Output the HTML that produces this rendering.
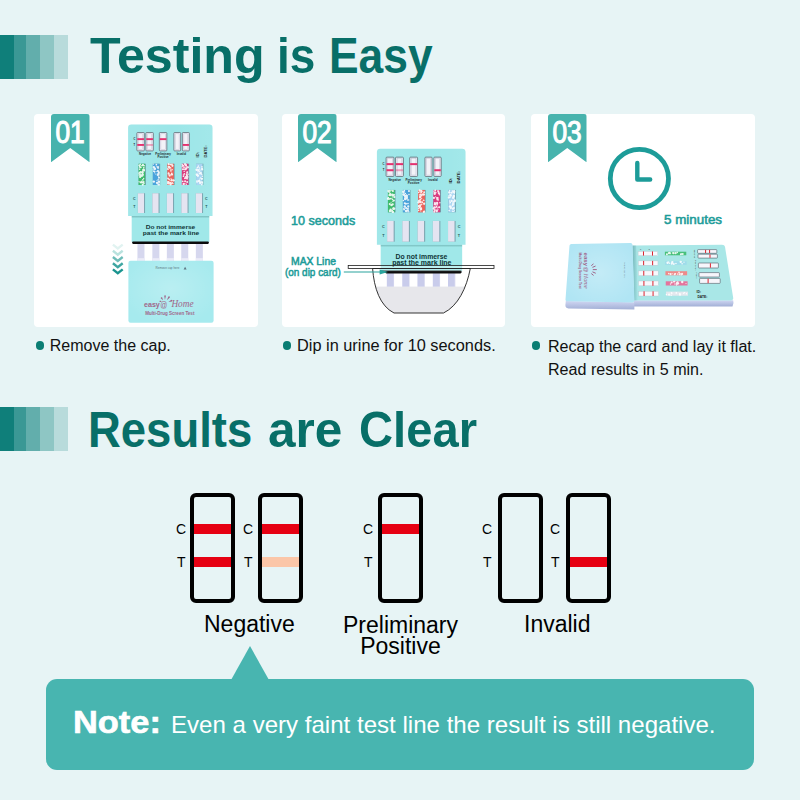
<!DOCTYPE html>
<html lang="en">
<head>
<meta charset="utf-8">
<title>Testing is Easy</title>
<style>
*{box-sizing:border-box;margin:0;padding:0}
html,body{width:800px;height:800px;overflow:hidden}
body{background:#e7f4f5;font-family:"Liberation Sans",sans-serif;position:relative}
.abs{position:absolute}
.bars{position:absolute;left:0;width:68px;height:44px;display:flex}
.bars i{display:block;flex:none;height:100%}
.bars i:nth-child(1){background:#0f7f7a;width:13.7px}
.bars i:nth-child(2){background:#3a9895;width:12.6px}
.bars i:nth-child(3){background:#62aeac;width:13.8px}
.bars i:nth-child(4){background:#8ec6c4;width:14px}
.bars i:nth-child(5){background:#b8dbdb;width:14px}
h1{position:absolute;left:90px;font-family:"Liberation Sans",sans-serif;font-weight:700;color:#086f68;white-space:nowrap;transform-origin:0 0;line-height:1}
h1 span{position:absolute;top:0;transform-origin:0 0}
.panel{position:absolute;top:113.8px;height:213.4px;background:#fff;border-radius:4px}
.ribbon{position:absolute;top:113.8px;width:38.5px;height:48.5px;background:#47b3ad;border-radius:3px 3px 0 0;clip-path:polygon(0 0,100% 0,100% 100%,50% 70.5%,0 100%);color:#fff;font-size:30.6px;line-height:1;text-align:center;padding-top:3.4px;-webkit-text-stroke:1.1px #fff}
.ribbon span{display:inline-block;transform:scaleX(.86);margin:0 -4px}
.cap{position:absolute;transform-origin:0 0;font-size:16px;line-height:23px;color:#111;white-space:nowrap}
.dot{position:absolute;margin:-.7px 0 0 -.1px;width:8.3px;height:8.3px;border-radius:50%;background:#0a7d73}
.teal{position:absolute;color:#1d9c99;font-weight:400;-webkit-text-stroke:.55px #1d9c99;white-space:nowrap;line-height:1;transform-origin:0 0}
.strip{position:absolute;top:493px;width:45px;height:110px;border:4px solid #000;border-radius:6px}
.strip b{position:absolute;left:0;right:0;height:10px;background:#e60012}
.strip b.c{top:27px}
.strip b.t{top:60px}
.strip b.f{background:#fbc6a8}
.ct{position:absolute;font-size:14px;line-height:1;color:#000}
.lbl{position:absolute;margin-top:1px;font-size:23px;line-height:21px;color:#000;text-align:center;white-space:nowrap}
.note{position:absolute;left:46px;top:679px;width:708px;height:91px;background:#48b5b0;border-radius:11px}
.tri{position:absolute;left:231px;top:646px;width:38px;height:34px;background:#48b5b0;clip-path:polygon(50% 0,100% 100%,0 100%)}
.nt{position:absolute;color:#fff;white-space:nowrap;line-height:1;transform-origin:0 0}
</style>
</head>
<body>

<!-- headers -->
<div class="bars" style="top:34.8px;height:44.2px"><i></i><i></i><i></i><i></i><i></i></div>
<h1 id="t1" style="top:31px;left:0;font-size:50.5px"><span style="left:89.5px;transform:scaleX(.993)">Testing</span> <span style="left:276.5px;transform:scaleX(.91)">is</span> <span style="left:328.5px;transform:scaleX(.879)">Easy</span></h1>
<div class="bars" style="top:407px;height:44.2px"><i></i><i></i><i></i><i></i><i></i></div>
<h1 id="t2" style="top:405px;left:0;font-size:50.5px"><span style="left:88px;transform:scaleX(.9)">Results</span> <span style="left:268px;transform:scaleX(.98)">are</span> <span style="left:359px;transform:scaleX(.934)">Clear</span></h1>

<!-- panels -->
<div class="panel" style="left:34.2px;width:223.9px"></div>
<div class="panel" style="left:281.6px;width:223.7px"></div>
<div class="panel" style="left:531.4px;width:223.6px"></div>
<div class="ribbon" style="left:51px"><span>01</span></div>
<div class="ribbon" style="left:298px"><span>02</span></div>
<div class="ribbon" style="left:548px"><span>03</span></div>

<!-- ART -->
<svg class="abs" id="art" style="left:0;top:0" width="800" height="340" viewBox="0 0 800 340">
<defs>
<linearGradient id="shd" x1="0" y1="0" x2="0" y2="1"><stop offset="0" stop-color="#2a6a68" stop-opacity=".35"/><stop offset="1" stop-color="#2a6a68" stop-opacity="0"/></linearGradient>
<linearGradient id="gl" x1="0" y1="0" x2="1" y2="0"><stop offset="0" stop-color="#fff" stop-opacity=".06"/><stop offset=".5" stop-color="#fff" stop-opacity="0"/><stop offset="1" stop-color="#fff" stop-opacity=".08"/></linearGradient>
<radialGradient id="capg" cx=".5" cy=".45" r=".6"><stop offset="0" stop-color="#fff" stop-opacity=".22"/><stop offset="1" stop-color="#fff" stop-opacity="0"/></radialGradient>
<radialGradient id="capg2" cx=".5" cy=".5" r=".6"><stop offset="0" stop-color="#fff" stop-opacity=".25"/><stop offset="1" stop-color="#fff" stop-opacity="0"/></radialGradient>
<linearGradient id="csh" x1="0" y1="0" x2="1" y2="0"><stop offset="0" stop-color="#3a7f88" stop-opacity=".45"/><stop offset="1" stop-color="#3a7f88" stop-opacity="0"/></linearGradient>
<linearGradient id="sideg" x1="0" y1="0" x2="0" y2="1"><stop offset="0" stop-color="#cfd6f2"/><stop offset="1" stop-color="#a3b0d6"/></linearGradient>
</defs>
<!-- step 1 -->
<g transform="translate(128.1,124.5) scale(1)">
<rect x="9.35" y="117.3" width="7" height="21" fill="#d6d7ee"/>
<rect x="9.35" y="133.68" width="7" height="4.62" fill="#ececf8"/>
<rect x="24.25" y="117.3" width="7" height="21" fill="#d6d7ee"/>
<rect x="24.25" y="133.68" width="7" height="4.62" fill="#ececf8"/>
<rect x="38.75" y="117.3" width="7" height="21" fill="#d6d7ee"/>
<rect x="38.75" y="133.68" width="7" height="4.62" fill="#ececf8"/>
<rect x="53.15" y="117.3" width="7" height="21" fill="#d6d7ee"/>
<rect x="53.15" y="133.68" width="7" height="4.62" fill="#ececf8"/>
<rect x="67.75" y="117.3" width="7" height="21" fill="#d6d7ee"/>
<rect x="67.75" y="133.68" width="7" height="4.62" fill="#ececf8"/>
<rect x="3.6" y="88" width="77.6" height="29.55" fill="#a0e8e9"/>
<rect x="3.6" y="91.5" width="77.6" height="2.4" fill="url(#shd)"/>
<rect x="4" y="117" width="76.8" height="2.4" rx="1.1" fill="#0c0c0c"/>
<path d="M0 3.2Q0 0 3.2 0H81.2Q84.4 0 84.4 3.2V91.5H0Z" fill="#9be6e8"/>
<path d="M0 3.2Q0 0 3.2 0H81.2Q84.4 0 84.4 3.2V91.5H0Z" fill="url(#gl)"/>
<rect x="8.75" y="8" width="7.5" height="18.4" rx=".8" fill="#e6e4f0" stroke="#56626c" stroke-width=".7"/>
<rect x="10.35" y="9.4" width="4.3" height="15.6" fill="#f3f2f8" stroke="#b4b6c8" stroke-width=".3"/>
<rect x="17.75" y="8" width="7.5" height="18.4" rx=".8" fill="#e6e4f0" stroke="#56626c" stroke-width=".7"/>
<rect x="19.35" y="9.4" width="4.3" height="15.6" fill="#f3f2f8" stroke="#b4b6c8" stroke-width=".3"/>
<rect x="31.25" y="8" width="7.5" height="18.4" rx=".8" fill="#e6e4f0" stroke="#56626c" stroke-width=".7"/>
<rect x="32.85" y="9.4" width="4.3" height="15.6" fill="#f3f2f8" stroke="#b4b6c8" stroke-width=".3"/>
<rect x="45.75" y="8" width="6.8" height="18.4" rx=".8" fill="#e6e4f0" stroke="#56626c" stroke-width=".7"/>
<rect x="47.35" y="9.4" width="3.6" height="15.6" fill="#f3f2f8" stroke="#b4b6c8" stroke-width=".3"/>
<rect x="54.25" y="8" width="7" height="18.4" rx=".8" fill="#e6e4f0" stroke="#56626c" stroke-width=".7"/>
<rect x="55.85" y="9.4" width="3.8" height="15.6" fill="#f3f2f8" stroke="#b4b6c8" stroke-width=".3"/>
<rect x="9.15" y="13.7" width="6.7" height="1.9" fill="#e4316f" opacity="1"/>
<rect x="9.15" y="19.5" width="6.7" height="1.9" fill="#e4316f" opacity="1"/>
<rect x="18.15" y="13.7" width="6.7" height="1.9" fill="#e4316f" opacity="1"/>
<rect x="18.15" y="19.5" width="6.7" height="1.9" fill="#e4316f" opacity="0.4"/>
<rect x="31.65" y="13.7" width="6.7" height="1.9" fill="#e4316f" opacity="1"/>
<rect x="54.65" y="19.5" width="6.2" height="1.9" fill="#e4316f" opacity="1"/>
<g font-family="Liberation Sans,sans-serif" fill="#1c2a2e" font-size="2.9" font-weight="700" text-anchor="middle">
<text x="17" y="30.6">Negative</text><text x="35" y="30.6">Preliminary</text><text x="35" y="33.4">Positive</text><text x="53.3" y="30.6">Invalid</text>
<text x="6.3" y="15.6" font-size="2.6">C</text><text x="6.3" y="21.4" font-size="2.6">T</text>
</g>
<g font-family="Liberation Sans,sans-serif" fill="#222" font-weight="700" font-size="4.1">
<text transform="translate(71.2,33) rotate(-90)">ID:</text><text transform="translate(79.2,33) rotate(-90)">DATE:</text>
</g>
<rect x="10.5" y="39.25" width="7.3" height="21.25" fill="#5f8f98" opacity=".75"/>
<rect x="10.5" y="39.25" width="6.5" height="21.25" fill="#3dbb6c"/>
<g fill="#fff" opacity=".88"><circle cx="12.68" cy="42.71" r="0.96"/><circle cx="11.14" cy="50.64" r="0.76"/><circle cx="11.05" cy="50.05" r="0.53"/><circle cx="13.35" cy="41.04" r="0.56"/><circle cx="13.29" cy="56.63" r="0.59"/><circle cx="12.06" cy="52.53" r="1.16"/><circle cx="14.22" cy="47.77" r="1.18"/><circle cx="10.98" cy="57.28" r="0.7"/><circle cx="11.58" cy="42.03" r="0.72"/><circle cx="15.68" cy="43.32" r="0.91"/><circle cx="14.6" cy="47.27" r="0.88"/><circle cx="11.08" cy="40.83" r="0.64"/><circle cx="14.85" cy="48.41" r="0.72"/><circle cx="14.27" cy="48.94" r="0.71"/><circle cx="15.55" cy="54" r="0.67"/><circle cx="14.2" cy="50.42" r="1.11"/><circle cx="15.15" cy="45.53" r="1.19"/><circle cx="11.42" cy="48.21" r="1.03"/><circle cx="11.63" cy="49.67" r="0.53"/><circle cx="14.78" cy="55.35" r="0.9"/><circle cx="16.04" cy="46.06" r="0.99"/><circle cx="14.33" cy="51.55" r="0.82"/><circle cx="15.82" cy="59.06" r="0.83"/><circle cx="14.75" cy="40.85" r="0.99"/><circle cx="14.65" cy="60.06" r="1.08"/><circle cx="12.44" cy="47.55" r="0.97"/><circle cx="10.84" cy="49.11" r="0.62"/><circle cx="11.41" cy="40.81" r="1.04"/><circle cx="11.49" cy="44.7" r="0.77"/><circle cx="16.02" cy="41.26" r="0.81"/><circle cx="14.05" cy="57.8" r="1.07"/><circle cx="15.97" cy="45.34" r="0.79"/><circle cx="12.89" cy="57.81" r="1.17"/><circle cx="11.62" cy="43.23" r="0.66"/><circle cx="12.12" cy="49.59" r="0.91"/><circle cx="12.3" cy="39.68" r="0.79"/><circle cx="12.95" cy="51.27" r="1.17"/><circle cx="14.91" cy="50.22" r="0.93"/><circle cx="14.82" cy="40.71" r="1.13"/><circle cx="15.46" cy="57.61" r="1.06"/><circle cx="13.09" cy="47.82" r="0.57"/><circle cx="14.57" cy="40.88" r="0.55"/></g>
<rect x="24.75" y="39.25" width="7.3" height="21.25" fill="#5f8f98" opacity=".75"/>
<rect x="24.75" y="39.25" width="6.5" height="21.25" fill="#4aa3dc"/>
<g fill="#fff" opacity=".88"><circle cx="26.22" cy="42.94" r="0.74"/><circle cx="25.27" cy="39.6" r="0.61"/><circle cx="25.57" cy="47.09" r="0.52"/><circle cx="30.28" cy="52.25" r="0.6"/><circle cx="26.49" cy="46.76" r="0.75"/><circle cx="25.7" cy="57.09" r="1.2"/><circle cx="27.79" cy="49.57" r="0.56"/><circle cx="25.57" cy="46.66" r="0.69"/><circle cx="30.01" cy="42.93" r="0.52"/><circle cx="30.75" cy="50.48" r="0.6"/><circle cx="28.26" cy="40.16" r="0.87"/><circle cx="30.92" cy="57.38" r="0.99"/><circle cx="26.54" cy="47.15" r="0.62"/><circle cx="29.66" cy="50.57" r="1.05"/><circle cx="26.96" cy="44.19" r="1.07"/><circle cx="30.96" cy="57.16" r="1.06"/><circle cx="29.94" cy="54.84" r="0.66"/><circle cx="28.11" cy="46.92" r="0.52"/><circle cx="25.12" cy="45.36" r="0.68"/><circle cx="29.17" cy="59.3" r="0.81"/><circle cx="30.67" cy="59.95" r="1.17"/><circle cx="27.17" cy="44.14" r="0.66"/><circle cx="26.15" cy="43.81" r="0.94"/><circle cx="30.44" cy="56.91" r="0.84"/><circle cx="28.93" cy="56.07" r="0.56"/><circle cx="28.98" cy="58.34" r="1.05"/><circle cx="29.53" cy="49.45" r="0.62"/><circle cx="29.76" cy="46.45" r="1.06"/><circle cx="30.88" cy="47.75" r="0.78"/><circle cx="30.73" cy="54.53" r="0.62"/><circle cx="25.72" cy="42.71" r="1.13"/><circle cx="29.87" cy="42.61" r="1.08"/><circle cx="30.93" cy="53.14" r="0.75"/><circle cx="28.3" cy="42.3" r="0.51"/><circle cx="30.87" cy="52.98" r="0.87"/><circle cx="30.65" cy="48.54" r="1.11"/><circle cx="29.99" cy="43.95" r="0.68"/><circle cx="26.74" cy="44.56" r="0.91"/><circle cx="26.53" cy="48.23" r="0.59"/><circle cx="30.5" cy="46.89" r="0.82"/><circle cx="28.51" cy="58.23" r="0.79"/><circle cx="30.55" cy="49.93" r="0.87"/></g>
<rect x="39.25" y="39.25" width="7.3" height="21.25" fill="#5f8f98" opacity=".75"/>
<rect x="39.25" y="39.25" width="6.5" height="21.25" fill="#ea645c"/>
<g fill="#fff" opacity=".88"><circle cx="42.64" cy="39.99" r="0.81"/><circle cx="40.57" cy="39.68" r="1.06"/><circle cx="40.5" cy="49.35" r="1.01"/><circle cx="42.84" cy="46.32" r="0.86"/><circle cx="42.84" cy="55.76" r="0.57"/><circle cx="42.87" cy="44.72" r="0.69"/><circle cx="44.16" cy="50.06" r="0.89"/><circle cx="44.09" cy="58.4" r="0.81"/><circle cx="43.19" cy="50.01" r="0.86"/><circle cx="43.68" cy="48.92" r="0.87"/><circle cx="42.37" cy="58.99" r="0.99"/><circle cx="44.8" cy="59.01" r="0.68"/><circle cx="42.86" cy="59.03" r="1.09"/><circle cx="40.29" cy="42.11" r="0.81"/><circle cx="39.89" cy="44.56" r="0.55"/><circle cx="43.53" cy="55.75" r="1.13"/><circle cx="40.39" cy="54.35" r="0.96"/><circle cx="40.32" cy="57.79" r="1.18"/><circle cx="40.79" cy="59.22" r="0.78"/><circle cx="42.42" cy="59.99" r="1.08"/><circle cx="40.43" cy="48.49" r="0.86"/><circle cx="41.52" cy="43.63" r="0.72"/><circle cx="43.86" cy="40" r="0.89"/><circle cx="42.14" cy="39.97" r="0.73"/><circle cx="43.26" cy="50.15" r="0.55"/><circle cx="45.46" cy="55.84" r="1.18"/><circle cx="40.09" cy="45.07" r="0.53"/><circle cx="44.2" cy="45.17" r="0.59"/><circle cx="42.03" cy="58.38" r="1.07"/><circle cx="41.03" cy="42.68" r="1.14"/><circle cx="42.93" cy="54.03" r="0.56"/><circle cx="39.8" cy="53.78" r="0.8"/><circle cx="39.89" cy="58.93" r="0.94"/><circle cx="44.34" cy="41.33" r="1.1"/><circle cx="39.86" cy="57.37" r="0.82"/><circle cx="41.52" cy="50.99" r="1.15"/><circle cx="41.08" cy="42.26" r="0.87"/><circle cx="40.9" cy="41.85" r="0.61"/><circle cx="39.76" cy="43.76" r="0.72"/><circle cx="41.31" cy="55.25" r="0.7"/><circle cx="42.5" cy="43.26" r="0.74"/><circle cx="39.56" cy="44.76" r="0.51"/></g>
<rect x="53.75" y="39.25" width="7.3" height="21.25" fill="#5f8f98" opacity=".75"/>
<rect x="53.75" y="39.25" width="6.5" height="21.25" fill="#da3b7d"/>
<g fill="#fff" opacity=".88"><circle cx="58.42" cy="50.95" r="0.63"/><circle cx="56.85" cy="58.85" r="0.57"/><circle cx="58.95" cy="48.5" r="0.85"/><circle cx="59.04" cy="47.7" r="0.85"/><circle cx="58.15" cy="59.84" r="0.74"/><circle cx="59.03" cy="54.16" r="0.95"/><circle cx="56.42" cy="46.76" r="0.54"/><circle cx="54.74" cy="41.06" r="1.02"/><circle cx="55.51" cy="42.96" r="0.56"/><circle cx="59.08" cy="57.53" r="0.97"/><circle cx="55.67" cy="44.59" r="0.71"/><circle cx="56.75" cy="42.85" r="0.81"/><circle cx="55.56" cy="59.41" r="1.18"/><circle cx="57.29" cy="44.64" r="1.18"/><circle cx="55.84" cy="46.95" r="0.5"/><circle cx="56.28" cy="49.38" r="0.85"/><circle cx="55.18" cy="50" r="0.5"/><circle cx="55.56" cy="41.45" r="0.78"/><circle cx="54.2" cy="40.06" r="0.71"/><circle cx="55.37" cy="51.66" r="0.87"/><circle cx="58.53" cy="53.15" r="1"/><circle cx="59.31" cy="47.62" r="0.73"/><circle cx="59.96" cy="42.68" r="1.01"/><circle cx="57.87" cy="40.5" r="1.08"/><circle cx="59.39" cy="52.52" r="1.01"/><circle cx="58.9" cy="42.47" r="0.87"/><circle cx="57.03" cy="56.8" r="1.06"/><circle cx="58.99" cy="51.63" r="1.12"/><circle cx="58.12" cy="53.88" r="0.66"/><circle cx="54.14" cy="42.34" r="0.75"/><circle cx="54.59" cy="56.82" r="0.89"/><circle cx="57.78" cy="52.5" r="0.98"/><circle cx="56.93" cy="39.67" r="1.06"/><circle cx="58.51" cy="49.96" r="0.87"/><circle cx="57.97" cy="40.96" r="1.02"/><circle cx="55.49" cy="41.13" r="0.69"/><circle cx="58.4" cy="43.83" r="1.02"/><circle cx="59.9" cy="49.78" r="0.77"/><circle cx="56.87" cy="53.68" r="1.04"/><circle cx="57.71" cy="52.84" r="0.55"/><circle cx="54.85" cy="44.83" r="1.02"/><circle cx="55.81" cy="51.3" r="0.51"/></g>
<rect x="68" y="39.25" width="7.3" height="21.25" fill="#5f8f98" opacity=".75"/>
<rect x="68" y="39.25" width="6.5" height="21.25" fill="#a9d5f2"/>
<g fill="#fff" opacity=".88"><circle cx="68.57" cy="45.14" r="0.97"/><circle cx="72.42" cy="53.52" r="0.7"/><circle cx="71.35" cy="49.17" r="0.83"/><circle cx="68.92" cy="58.01" r="0.64"/><circle cx="74.17" cy="58.89" r="0.51"/><circle cx="71" cy="56.49" r="1.18"/><circle cx="70.94" cy="45.13" r="0.65"/><circle cx="73.97" cy="43.94" r="0.91"/><circle cx="69.06" cy="50.4" r="1.17"/><circle cx="69.01" cy="56.5" r="0.86"/><circle cx="73.61" cy="54.09" r="0.66"/><circle cx="73.68" cy="49.61" r="0.52"/><circle cx="68.22" cy="49.73" r="0.82"/><circle cx="70.04" cy="42.5" r="0.74"/><circle cx="70.13" cy="56.91" r="0.5"/><circle cx="72.78" cy="56.89" r="0.58"/><circle cx="73.85" cy="54.29" r="1.13"/><circle cx="69.97" cy="47.27" r="0.78"/><circle cx="74.29" cy="51.74" r="0.75"/><circle cx="70.81" cy="45.27" r="0.53"/><circle cx="68.82" cy="56.79" r="0.7"/><circle cx="73.91" cy="44.74" r="0.69"/><circle cx="71.32" cy="43.51" r="0.76"/><circle cx="74.03" cy="57.82" r="1.07"/><circle cx="72.05" cy="58.42" r="1.16"/><circle cx="71.55" cy="54.42" r="0.53"/><circle cx="72.67" cy="48.89" r="1.03"/><circle cx="72.13" cy="45.5" r="0.53"/><circle cx="73.85" cy="42.22" r="0.83"/><circle cx="70.3" cy="45.73" r="1.02"/><circle cx="74.16" cy="44.96" r="0.96"/><circle cx="70.04" cy="51.08" r="0.78"/><circle cx="69.22" cy="42.93" r="0.65"/><circle cx="73.73" cy="49.84" r="0.65"/><circle cx="73.73" cy="60.13" r="0.81"/><circle cx="69.05" cy="43.56" r="0.56"/><circle cx="70.29" cy="41.48" r="0.67"/><circle cx="69.78" cy="51.33" r="1.12"/><circle cx="72.77" cy="48.1" r="0.79"/><circle cx="71.4" cy="47.36" r="0.74"/><circle cx="68.58" cy="45.32" r="1.18"/><circle cx="68.97" cy="49.97" r="0.94"/></g>
<rect x="9.75" y="68.75" width="7.2" height="19.75" fill="#6f93a0" opacity=".8"/>
<rect x="9.75" y="68.75" width="6.2" height="19.75" fill="#e5e4f1"/>
<rect x="24.25" y="68.75" width="7.2" height="19.75" fill="#6f93a0" opacity=".8"/>
<rect x="24.25" y="68.75" width="6.2" height="19.75" fill="#e5e4f1"/>
<rect x="38.75" y="68.75" width="7.2" height="19.75" fill="#6f93a0" opacity=".8"/>
<rect x="38.75" y="68.75" width="6.2" height="19.75" fill="#e5e4f1"/>
<rect x="53.25" y="68.75" width="7.2" height="19.75" fill="#6f93a0" opacity=".8"/>
<rect x="53.25" y="68.75" width="6.2" height="19.75" fill="#e5e4f1"/>
<rect x="67.75" y="68.75" width="7.2" height="19.75" fill="#6f93a0" opacity=".8"/>
<rect x="67.75" y="68.75" width="6.2" height="19.75" fill="#e5e4f1"/>
<g font-family="Liberation Sans,sans-serif" fill="#1f5a5c" font-weight="700" font-size="3.6" text-anchor="middle">
<text x="6.2" y="75.5">C</text><text x="6.2" y="83.9">T</text><text x="78.2" y="75.5">C</text><text x="78.2" y="83.9">T</text>
</g>
<g font-family="Liberation Sans,sans-serif" fill="#0e3536" font-weight="700" font-size="6" text-anchor="middle">
<text x="42.4" y="104.6" textLength="49.5" lengthAdjust="spacingAndGlyphs">Do not immerse</text>
<text x="42.8" y="110.4" textLength="56.5" lengthAdjust="spacingAndGlyphs">past the mark line</text>
</g>
</g>
<rect x="128.4" y="260.8" width="85.2" height="62" rx="2.2" fill="#a6eaee"/>
<rect x="128.4" y="260.8" width="85.2" height="62" rx="2.2" fill="url(#capg)"/>
<g font-family="Liberation Sans,sans-serif" fill="#5d7480">
<text x="155.5" y="269.3" font-size="3.2" textLength="24" lengthAdjust="spacingAndGlyphs">Remove cap here</text>
<path d="M183.6 269.6l1.5-2.8 1.5 2.8z"/>
</g>
<g fill="#a0668a" font-family="Liberation Sans,sans-serif">
<text x="144" y="307.3" font-size="7.6" font-weight="700" textLength="15.8" lengthAdjust="spacingAndGlyphs">easy</text>
<text x="160.3" y="307.6" font-size="8.2" textLength="7" lengthAdjust="spacingAndGlyphs">@</text>
<text x="171.4" y="307.3" font-size="9.4" font-style="italic" font-family="Liberation Serif,serif" textLength="22.2" lengthAdjust="spacingAndGlyphs">Home</text>
<text x="145.2" y="315" font-size="5.3" font-weight="700" textLength="49.2" lengthAdjust="spacingAndGlyphs">Multi-Drug Screen Test</text>
<path d="M161.74 301.96L160.3 300.46Q158.87 300.8 159.66 302.04Z"/>
<path d="M163 300.32L162.13 297.32Q160.77 296.75 160.69 298.22Z"/>
<path d="M164.92 299.8L165.91 295.83Q165.1 294.61 164.21 295.77Z"/>
<path d="M166.86 300.25L169.86 297.46Q169.85 295.99 168.46 296.49Z"/>
<path d="M168.37 301.9L172.04 301.47Q172.88 300.26 171.46 299.87Z"/>
</g>
<g fill="none" stroke-width="2.4" stroke-linejoin="miter">
<path d="M112.9 244.6l4.9 3.9 4.9-3.9" stroke="#e1f3f1"/>
<path d="M112.9 250.8l4.9 3.9 4.9-3.9" stroke="#b9e2de"/>
<path d="M112.9 257l4.9 3.9 4.9-3.9" stroke="#6dbcb8"/>
<path d="M112.9 263.2l4.9 3.9 4.9-3.9" stroke="#3fa6a2"/>
<path d="M112.9 269.4l4.9 3.9 4.9-3.9" stroke="#1a948f"/>
</g>
<!-- step 2 -->
<g transform="translate(376.9,148.75) scale(1.05)">
<rect x="9.35" y="116.3" width="7" height="30" fill="#d6d7ee"/>
<rect x="9.35" y="139.7" width="7" height="6.6" fill="#ececf8"/>
<rect x="24.25" y="116.3" width="7" height="30" fill="#d6d7ee"/>
<rect x="24.25" y="139.7" width="7" height="6.6" fill="#ececf8"/>
<rect x="38.75" y="116.3" width="7" height="30" fill="#d6d7ee"/>
<rect x="38.75" y="139.7" width="7" height="6.6" fill="#ececf8"/>
<rect x="53.15" y="116.3" width="7" height="30" fill="#d6d7ee"/>
<rect x="53.15" y="139.7" width="7" height="6.6" fill="#ececf8"/>
<rect x="67.75" y="116.3" width="7" height="30" fill="#d6d7ee"/>
<rect x="67.75" y="139.7" width="7" height="6.6" fill="#ececf8"/>
<rect x="3.6" y="88" width="77.6" height="28.55" fill="#a0e8e9"/>
<rect x="3.6" y="91.5" width="77.6" height="2.4" fill="url(#shd)"/>
<rect x="4" y="116" width="76.8" height="2.4" rx="1.1" fill="#0c0c0c"/>
<path d="M0 3.2Q0 0 3.2 0H81.2Q84.4 0 84.4 3.2V91.5H0Z" fill="#9be6e8"/>
<path d="M0 3.2Q0 0 3.2 0H81.2Q84.4 0 84.4 3.2V91.5H0Z" fill="url(#gl)"/>
<rect x="8.75" y="8" width="7.5" height="18.4" rx=".8" fill="#e6e4f0" stroke="#56626c" stroke-width=".7"/>
<rect x="10.35" y="9.4" width="4.3" height="15.6" fill="#f3f2f8" stroke="#b4b6c8" stroke-width=".3"/>
<rect x="17.75" y="8" width="7.5" height="18.4" rx=".8" fill="#e6e4f0" stroke="#56626c" stroke-width=".7"/>
<rect x="19.35" y="9.4" width="4.3" height="15.6" fill="#f3f2f8" stroke="#b4b6c8" stroke-width=".3"/>
<rect x="31.25" y="8" width="7.5" height="18.4" rx=".8" fill="#e6e4f0" stroke="#56626c" stroke-width=".7"/>
<rect x="32.85" y="9.4" width="4.3" height="15.6" fill="#f3f2f8" stroke="#b4b6c8" stroke-width=".3"/>
<rect x="45.75" y="8" width="6.8" height="18.4" rx=".8" fill="#e6e4f0" stroke="#56626c" stroke-width=".7"/>
<rect x="47.35" y="9.4" width="3.6" height="15.6" fill="#f3f2f8" stroke="#b4b6c8" stroke-width=".3"/>
<rect x="54.25" y="8" width="7" height="18.4" rx=".8" fill="#e6e4f0" stroke="#56626c" stroke-width=".7"/>
<rect x="55.85" y="9.4" width="3.8" height="15.6" fill="#f3f2f8" stroke="#b4b6c8" stroke-width=".3"/>
<rect x="9.15" y="13.7" width="6.7" height="1.9" fill="#e4316f" opacity="1"/>
<rect x="9.15" y="19.5" width="6.7" height="1.9" fill="#e4316f" opacity="1"/>
<rect x="18.15" y="13.7" width="6.7" height="1.9" fill="#e4316f" opacity="1"/>
<rect x="18.15" y="19.5" width="6.7" height="1.9" fill="#e4316f" opacity="0.4"/>
<rect x="31.65" y="13.7" width="6.7" height="1.9" fill="#e4316f" opacity="1"/>
<rect x="54.65" y="19.5" width="6.2" height="1.9" fill="#e4316f" opacity="1"/>
<g font-family="Liberation Sans,sans-serif" fill="#1c2a2e" font-size="2.9" font-weight="700" text-anchor="middle">
<text x="17" y="30.6">Negative</text><text x="35" y="30.6">Preliminary</text><text x="35" y="33.4">Positive</text><text x="53.3" y="30.6">Invalid</text>
<text x="6.3" y="15.6" font-size="2.6">C</text><text x="6.3" y="21.4" font-size="2.6">T</text>
</g>
<g font-family="Liberation Sans,sans-serif" fill="#222" font-weight="700" font-size="4.1">
<text transform="translate(71.2,33) rotate(-90)">ID:</text><text transform="translate(79.2,33) rotate(-90)">DATE:</text>
</g>
<rect x="10.5" y="39.25" width="7.3" height="21.25" fill="#5f8f98" opacity=".75"/>
<rect x="10.5" y="39.25" width="6.5" height="21.25" fill="#3dbb6c"/>
<g fill="#fff" opacity=".88"><circle cx="15.96" cy="44.05" r="0.69"/><circle cx="12.22" cy="47.83" r="0.81"/><circle cx="16.52" cy="57.08" r="1.11"/><circle cx="10.83" cy="40.26" r="1"/><circle cx="16.16" cy="49.35" r="0.91"/><circle cx="10.7" cy="47.67" r="1.15"/><circle cx="15.74" cy="57.22" r="1.18"/><circle cx="12.22" cy="41.85" r="0.61"/><circle cx="13.89" cy="53.65" r="1.16"/><circle cx="15.1" cy="52.94" r="1.04"/><circle cx="13.49" cy="50.96" r="0.53"/><circle cx="15.47" cy="44.39" r="1.14"/><circle cx="14.64" cy="45.86" r="0.59"/><circle cx="12.24" cy="52.71" r="0.99"/><circle cx="11.38" cy="41.05" r="0.87"/><circle cx="14.26" cy="47.59" r="0.66"/><circle cx="14.37" cy="39.82" r="0.71"/><circle cx="13.51" cy="59.35" r="0.95"/><circle cx="16.09" cy="49.39" r="0.66"/><circle cx="12.21" cy="59.39" r="0.99"/><circle cx="12.58" cy="40.05" r="0.85"/><circle cx="14.81" cy="48.25" r="0.68"/><circle cx="14.77" cy="58.66" r="0.66"/><circle cx="10.91" cy="46.56" r="0.79"/><circle cx="14.86" cy="43.68" r="1.06"/><circle cx="15.21" cy="50" r="0.64"/><circle cx="16.62" cy="46.02" r="1.07"/><circle cx="12.11" cy="44.16" r="1.03"/><circle cx="12.5" cy="59.21" r="0.85"/><circle cx="11.84" cy="44.2" r="0.79"/><circle cx="14.76" cy="59.14" r="0.6"/><circle cx="13.1" cy="43.99" r="1.18"/><circle cx="11.57" cy="40.67" r="0.54"/><circle cx="13.1" cy="58.1" r="1.12"/><circle cx="15.17" cy="60.15" r="1.15"/><circle cx="12.71" cy="43.42" r="1.16"/><circle cx="15.25" cy="40.26" r="0.97"/><circle cx="13.01" cy="47.3" r="0.73"/><circle cx="11.73" cy="39.66" r="0.7"/><circle cx="12.84" cy="59.28" r="0.59"/><circle cx="16.58" cy="43.87" r="0.75"/><circle cx="15.71" cy="56.53" r="0.8"/></g>
<rect x="24.75" y="39.25" width="7.3" height="21.25" fill="#5f8f98" opacity=".75"/>
<rect x="24.75" y="39.25" width="6.5" height="21.25" fill="#4aa3dc"/>
<g fill="#fff" opacity=".88"><circle cx="25.25" cy="49.35" r="0.76"/><circle cx="30.56" cy="43.58" r="0.75"/><circle cx="30.42" cy="40.22" r="0.79"/><circle cx="29.9" cy="55.39" r="0.53"/><circle cx="25.16" cy="40.89" r="1.14"/><circle cx="26.52" cy="54.99" r="1.13"/><circle cx="27.02" cy="45.21" r="1.17"/><circle cx="28.71" cy="45" r="1"/><circle cx="26.88" cy="45.28" r="0.5"/><circle cx="29.56" cy="58.48" r="0.94"/><circle cx="30.7" cy="40.1" r="0.66"/><circle cx="27.85" cy="59.31" r="1.17"/><circle cx="27.31" cy="44.77" r="0.8"/><circle cx="27.96" cy="58.72" r="0.63"/><circle cx="29.85" cy="54.81" r="1.08"/><circle cx="29.66" cy="52.11" r="0.73"/><circle cx="26.9" cy="47.05" r="1.05"/><circle cx="25.43" cy="43.66" r="1.03"/><circle cx="26.46" cy="40.93" r="0.52"/><circle cx="28.32" cy="46.31" r="1.19"/><circle cx="30.34" cy="59.95" r="0.69"/><circle cx="25.46" cy="41.59" r="0.85"/><circle cx="29.28" cy="48.81" r="0.66"/><circle cx="27.49" cy="52.38" r="0.97"/><circle cx="29.51" cy="57.05" r="0.97"/><circle cx="25.69" cy="56.92" r="0.71"/><circle cx="28.41" cy="47.28" r="1.02"/><circle cx="26.17" cy="44.7" r="0.67"/><circle cx="25.89" cy="57.81" r="0.9"/><circle cx="26.94" cy="47.76" r="1.19"/><circle cx="28.04" cy="44.37" r="1.07"/><circle cx="28.94" cy="60.01" r="0.57"/><circle cx="27.85" cy="56.47" r="1.09"/><circle cx="30.53" cy="40.43" r="0.71"/><circle cx="25.68" cy="43.51" r="1.18"/><circle cx="28.51" cy="58.76" r="0.76"/><circle cx="30.23" cy="48.85" r="0.68"/><circle cx="29.69" cy="59.08" r="0.57"/><circle cx="28.59" cy="52.37" r="0.65"/><circle cx="27.2" cy="42.51" r="0.64"/><circle cx="26.5" cy="51.95" r="0.96"/><circle cx="26.19" cy="39.83" r="0.73"/></g>
<rect x="39.25" y="39.25" width="7.3" height="21.25" fill="#5f8f98" opacity=".75"/>
<rect x="39.25" y="39.25" width="6.5" height="21.25" fill="#ea645c"/>
<g fill="#fff" opacity=".88"><circle cx="43.59" cy="43.41" r="0.72"/><circle cx="40.69" cy="55.98" r="0.88"/><circle cx="39.84" cy="41.69" r="0.78"/><circle cx="42.81" cy="52.77" r="0.56"/><circle cx="40.45" cy="53.93" r="0.79"/><circle cx="41.18" cy="45.94" r="1.17"/><circle cx="41.36" cy="51.27" r="0.75"/><circle cx="41.99" cy="57.4" r="1.2"/><circle cx="41.67" cy="43.66" r="1.01"/><circle cx="40.69" cy="39.72" r="1.13"/><circle cx="42.03" cy="56.5" r="0.78"/><circle cx="44.84" cy="49.09" r="0.61"/><circle cx="39.54" cy="50.96" r="0.95"/><circle cx="45" cy="41.43" r="0.94"/><circle cx="41.71" cy="49.99" r="0.6"/><circle cx="41.18" cy="50.34" r="1.15"/><circle cx="40.11" cy="49.7" r="1.06"/><circle cx="45.35" cy="43.67" r="0.59"/><circle cx="45.2" cy="59.7" r="0.84"/><circle cx="39.78" cy="58.68" r="0.77"/><circle cx="44.97" cy="52.38" r="1.08"/><circle cx="40.43" cy="55.79" r="0.66"/><circle cx="41.92" cy="57.03" r="1.08"/><circle cx="40.57" cy="44.09" r="0.78"/><circle cx="42.61" cy="47.5" r="0.59"/><circle cx="40.96" cy="54.53" r="1.13"/><circle cx="39.7" cy="51.18" r="1.03"/><circle cx="39.68" cy="56.87" r="0.58"/><circle cx="43.11" cy="50.93" r="0.94"/><circle cx="41.32" cy="48.25" r="0.91"/><circle cx="42.05" cy="53.17" r="0.81"/><circle cx="42.12" cy="40.08" r="0.93"/><circle cx="42.44" cy="44.45" r="1.03"/><circle cx="44.21" cy="49.04" r="0.63"/><circle cx="42.34" cy="41.81" r="0.59"/><circle cx="42.08" cy="41.49" r="0.81"/><circle cx="42.56" cy="40.44" r="0.95"/><circle cx="39.95" cy="54.71" r="1.04"/><circle cx="42.57" cy="40.72" r="0.85"/><circle cx="41.75" cy="59.19" r="0.6"/><circle cx="44.68" cy="60.12" r="1.01"/><circle cx="44.42" cy="43.59" r="1.19"/></g>
<rect x="53.75" y="39.25" width="7.3" height="21.25" fill="#5f8f98" opacity=".75"/>
<rect x="53.75" y="39.25" width="6.5" height="21.25" fill="#da3b7d"/>
<g fill="#fff" opacity=".88"><circle cx="56.95" cy="59.31" r="1.14"/><circle cx="54.96" cy="55.84" r="1.15"/><circle cx="54.35" cy="46.83" r="1.03"/><circle cx="54.92" cy="58.07" r="0.69"/><circle cx="58.93" cy="42.56" r="0.85"/><circle cx="59.56" cy="43.89" r="0.68"/><circle cx="57.04" cy="46.17" r="0.53"/><circle cx="55.06" cy="42.92" r="1.16"/><circle cx="58.1" cy="58.05" r="0.62"/><circle cx="58.74" cy="41.97" r="0.87"/><circle cx="57.83" cy="47.01" r="1.11"/><circle cx="57.34" cy="51.55" r="1.12"/><circle cx="54.59" cy="60.05" r="0.94"/><circle cx="56.35" cy="56.03" r="0.69"/><circle cx="59.99" cy="51.49" r="0.75"/><circle cx="58.61" cy="48.71" r="0.62"/><circle cx="58.49" cy="40.59" r="1.07"/><circle cx="55.5" cy="52.77" r="1.19"/><circle cx="57.52" cy="53.27" r="0.72"/><circle cx="53.96" cy="40.3" r="0.6"/><circle cx="57.71" cy="48.5" r="0.86"/><circle cx="59.41" cy="42.32" r="0.66"/><circle cx="57.93" cy="40.06" r="0.5"/><circle cx="56.12" cy="41.79" r="0.75"/><circle cx="55.32" cy="51.62" r="0.91"/><circle cx="55.2" cy="52.45" r="0.83"/><circle cx="54.77" cy="58.89" r="0.67"/><circle cx="54.86" cy="41.57" r="0.95"/><circle cx="59.26" cy="55.71" r="0.78"/><circle cx="55.56" cy="39.84" r="0.95"/><circle cx="57.38" cy="46.82" r="0.95"/><circle cx="56.66" cy="58.91" r="1.01"/><circle cx="55.47" cy="58.21" r="0.53"/><circle cx="57.19" cy="47.96" r="0.67"/><circle cx="54.31" cy="55.64" r="0.51"/><circle cx="57.31" cy="58.98" r="0.6"/><circle cx="55.17" cy="52.13" r="0.85"/><circle cx="57.86" cy="56.36" r="0.62"/><circle cx="55.84" cy="45.79" r="0.53"/><circle cx="59.38" cy="55.73" r="1"/><circle cx="53.99" cy="57" r="1.02"/><circle cx="56.79" cy="54.88" r="0.82"/></g>
<rect x="68" y="39.25" width="7.3" height="21.25" fill="#5f8f98" opacity=".75"/>
<rect x="68" y="39.25" width="6.5" height="21.25" fill="#a9d5f2"/>
<g fill="#fff" opacity=".88"><circle cx="69.58" cy="41.77" r="0.66"/><circle cx="68.44" cy="46.51" r="1.02"/><circle cx="72.44" cy="57.01" r="1"/><circle cx="69.82" cy="51.01" r="0.81"/><circle cx="73.01" cy="50.38" r="0.69"/><circle cx="72.12" cy="59.48" r="0.65"/><circle cx="73.57" cy="39.91" r="0.68"/><circle cx="69.64" cy="54.92" r="1.16"/><circle cx="72.75" cy="46.33" r="1.12"/><circle cx="70.2" cy="44.53" r="1.14"/><circle cx="72.05" cy="53.87" r="0.97"/><circle cx="74.17" cy="49.27" r="1.09"/><circle cx="72.46" cy="57.26" r="0.81"/><circle cx="72.62" cy="51.35" r="0.72"/><circle cx="69.49" cy="52.43" r="0.55"/><circle cx="73.76" cy="42.58" r="0.52"/><circle cx="68.85" cy="58.74" r="0.74"/><circle cx="69.07" cy="40.19" r="0.53"/><circle cx="72.43" cy="52.66" r="0.99"/><circle cx="72.69" cy="40.95" r="0.91"/><circle cx="70.42" cy="56.44" r="1.07"/><circle cx="73.64" cy="40.96" r="1.11"/><circle cx="73.78" cy="59.05" r="0.57"/><circle cx="69.45" cy="41.91" r="0.52"/><circle cx="73.37" cy="56.33" r="0.94"/><circle cx="73.23" cy="52.61" r="0.7"/><circle cx="68.81" cy="41.62" r="1.03"/><circle cx="69.45" cy="46.17" r="0.8"/><circle cx="68.33" cy="44.89" r="0.7"/><circle cx="72.57" cy="47.18" r="0.72"/><circle cx="74.08" cy="49.98" r="1.1"/><circle cx="71.97" cy="40.24" r="0.79"/><circle cx="70.86" cy="55.52" r="0.74"/><circle cx="72.5" cy="50.68" r="0.65"/><circle cx="73.46" cy="41.47" r="1.07"/><circle cx="69.24" cy="39.63" r="0.64"/><circle cx="72.85" cy="59.74" r="0.5"/><circle cx="71.19" cy="49.72" r="1.06"/><circle cx="69.33" cy="49.79" r="0.74"/><circle cx="73.27" cy="44.97" r="1.16"/><circle cx="69.93" cy="44.02" r="0.99"/><circle cx="71.24" cy="41.86" r="0.95"/></g>
<rect x="9.75" y="68.75" width="7.2" height="19.75" fill="#6f93a0" opacity=".8"/>
<rect x="9.75" y="68.75" width="6.2" height="19.75" fill="#e5e4f1"/>
<rect x="24.25" y="68.75" width="7.2" height="19.75" fill="#6f93a0" opacity=".8"/>
<rect x="24.25" y="68.75" width="6.2" height="19.75" fill="#e5e4f1"/>
<rect x="38.75" y="68.75" width="7.2" height="19.75" fill="#6f93a0" opacity=".8"/>
<rect x="38.75" y="68.75" width="6.2" height="19.75" fill="#e5e4f1"/>
<rect x="53.25" y="68.75" width="7.2" height="19.75" fill="#6f93a0" opacity=".8"/>
<rect x="53.25" y="68.75" width="6.2" height="19.75" fill="#e5e4f1"/>
<rect x="67.75" y="68.75" width="7.2" height="19.75" fill="#6f93a0" opacity=".8"/>
<rect x="67.75" y="68.75" width="6.2" height="19.75" fill="#e5e4f1"/>
<g font-family="Liberation Sans,sans-serif" fill="#1f5a5c" font-weight="700" font-size="3.6" text-anchor="middle">
<text x="6.2" y="75.5">C</text><text x="6.2" y="83.9">T</text><text x="78.2" y="75.5">C</text><text x="78.2" y="83.9">T</text>
</g>
<g font-family="Liberation Sans,sans-serif" fill="#0e3536" font-weight="700" font-size="6" text-anchor="middle">
<text x="42.4" y="104.6" textLength="49.5" lengthAdjust="spacingAndGlyphs">Do not immerse</text>
<text x="42.8" y="110.4" textLength="56.5" lengthAdjust="spacingAndGlyphs">past the mark line</text>
</g>
</g>
<clipPath id="bowlc"><path d="M372.6 268.5C374 288 380 306 394 313H443.5C458 306 466.6 288 470.3 268.5Z"/></clipPath>
<path d="M372.6 268.5C374 288 380 306 394 313H443.5C458 306 466.6 288 470.3 268.5Z" fill="#fff" opacity=".22"/>
<rect x="387" y="273.4" width="6.6" height="13.4" fill="#c9cceb"/>
<rect x="402.4" y="273.4" width="6.6" height="13.4" fill="#c9cceb"/>
<rect x="417.6" y="273.4" width="6.6" height="13.4" fill="#c9cceb"/>
<rect x="433" y="273.4" width="6.6" height="13.4" fill="#c9cceb"/>
<rect x="448" y="273.4" width="6.6" height="13.4" fill="#c9cceb"/>
<rect x="365" y="286.6" width="115" height="28" fill="#e7e7eb" clip-path="url(#bowlc)"/>
<path d="M372.6 268.5C374 288 380 306 394 313H443.5C458 306 466.6 288 470.3 268.5Z" fill="none" stroke="#1d1d1d" stroke-width=".9"/>
<rect x="385.6" y="271.3" width="75.6" height="2.2" rx="1" fill="#0c0c0c"/>
<rect x="348.2" y="265.4" width="145.8" height="3.1" fill="#fff" fill-opacity=".3" stroke="#1d1d1d" stroke-width=".8"/>
<path d="M343.8 272H381" stroke="#2aa49d" stroke-width="1.1" fill="none"/>
<path d="M379.6 269.6L388 272L379.6 274.4Z" fill="#2aa49d"/>
<!-- step 3 -->
<circle cx="639.4" cy="178.5" r="29.1" fill="none" stroke="#1d9c99" stroke-width="4.8"/>
<path d="M637.3 163V179.5H650.2" fill="none" stroke="#1d9c99" stroke-width="4.4" stroke-linecap="round" stroke-linejoin="round"/>
<path d="M634 300.2H733.2Q734.2 303 732.5 306.4H634Z" fill="url(#sideg)"/>
<path d="M632.2 245.4L722 244.8Q724.6 244.8 725 246.8L733.2 298Q733.6 300.4 731 300.4L634 300.4Z" fill="#a9e7e7"/>
<rect x="638.09" y="251.4" width="19.65" height="4.2" fill="#f8f8fc" stroke="#b8c4cc" stroke-width=".4"/>
<path d="M643.49 251.4V255.6M652.49 251.4V255.6" stroke="#d9232e" stroke-width="1"/>
<rect x="664.89" y="251.7" width="21.39" height="3.6" fill="#49c07a"/>
<g fill="#fff" opacity=".88"><circle cx="666.87" cy="254.36" r="0.99"/><circle cx="681.55" cy="253.88" r="0.75"/><circle cx="673.53" cy="253.18" r="1.12"/><circle cx="666.98" cy="254.67" r="0.52"/><circle cx="669.47" cy="252.79" r="1.13"/><circle cx="675.61" cy="253.14" r="1.12"/><circle cx="670.04" cy="253.38" r="0.87"/><circle cx="680.87" cy="254.26" r="0.95"/><circle cx="672.43" cy="252.98" r="0.61"/><circle cx="682.72" cy="253.99" r="1.02"/><circle cx="668.71" cy="253.32" r="1.04"/><circle cx="677.23" cy="252.38" r="0.82"/></g>
<rect x="638.23" y="260.9" width="19.72" height="4.3" fill="#f8f8fc" stroke="#b8c4cc" stroke-width=".4"/>
<path d="M643.63 260.9V265.2M652.63 260.9V265.2" stroke="#d9232e" stroke-width="1"/>
<rect x="665.16" y="261.2" width="21.53" height="3.7" fill="#9fdcea"/>
<g fill="#fff" opacity=".88"><circle cx="683.99" cy="262.24" r="0.63"/><circle cx="671.77" cy="263.68" r="1.09"/><circle cx="668.7" cy="261.98" r="0.67"/><circle cx="672.3" cy="263.12" r="0.61"/><circle cx="672.33" cy="262.09" r="1.18"/><circle cx="680.72" cy="261.82" r="1.17"/><circle cx="667.59" cy="262.69" r="1.19"/><circle cx="682.1" cy="263.77" r="0.8"/><circle cx="669.57" cy="263.48" r="0.57"/><circle cx="669.78" cy="262.7" r="0.52"/><circle cx="673.81" cy="263.95" r="0.99"/><circle cx="675.94" cy="263.46" r="0.82"/></g>
<rect x="638.38" y="270.9" width="19.79" height="4.7" fill="#f8f8fc" stroke="#b8c4cc" stroke-width=".4"/>
<path d="M643.78 270.9V275.6M652.78 270.9V275.6" stroke="#d9232e" stroke-width="1"/>
<rect x="665.45" y="271.2" width="21.68" height="4.1" fill="#ee8a8a"/>
<g fill="#fff" opacity=".88"><circle cx="668.74" cy="273.61" r="0.78"/><circle cx="681.37" cy="274.68" r="0.8"/><circle cx="677.85" cy="274.12" r="0.79"/><circle cx="670.57" cy="274.03" r="1.12"/><circle cx="682.07" cy="273.95" r="1.1"/><circle cx="680.08" cy="273.75" r="0.82"/><circle cx="672.35" cy="273.7" r="0.57"/><circle cx="674.6" cy="274.24" r="1"/><circle cx="679.02" cy="272.38" r="0.8"/><circle cx="675.35" cy="273.68" r="0.79"/><circle cx="679.99" cy="274.76" r="0.63"/><circle cx="679.55" cy="274.22" r="0.77"/></g>
<rect x="638.52" y="281" width="19.86" height="4.8" fill="#f8f8fc" stroke="#b8c4cc" stroke-width=".4"/>
<path d="M643.92 281V285.8M652.92 281V285.8" stroke="#d9232e" stroke-width="1"/>
<rect x="665.75" y="281.3" width="21.82" height="4.2" fill="#e4749c"/>
<g fill="#fff" opacity=".88"><circle cx="676.44" cy="285.11" r="0.53"/><circle cx="677.58" cy="282.18" r="1.05"/><circle cx="686.01" cy="283.47" r="0.57"/><circle cx="678.24" cy="283.55" r="1"/><circle cx="676.92" cy="283.9" r="1.08"/><circle cx="677.12" cy="283.08" r="1.16"/><circle cx="670.51" cy="284.06" r="0.77"/><circle cx="682.23" cy="282.04" r="1.19"/><circle cx="673.59" cy="281.8" r="0.69"/><circle cx="674.53" cy="281.65" r="0.79"/><circle cx="674.97" cy="284.11" r="0.75"/><circle cx="671.67" cy="282.41" r="1.02"/></g>
<rect x="638.67" y="291.3" width="19.94" height="4.7" fill="#f8f8fc" stroke="#b8c4cc" stroke-width=".4"/>
<path d="M644.07 291.3V296M653.07 291.3V296" stroke="#d9232e" stroke-width="1"/>
<rect x="666.05" y="291.6" width="21.97" height="4.1" fill="#e4e8ee"/>
<g fill="#fff" opacity=".88"><circle cx="686.44" cy="293.74" r="0.65"/><circle cx="683.48" cy="293.27" r="0.65"/><circle cx="669.11" cy="294.62" r="1.07"/><circle cx="679.9" cy="293.54" r="0.89"/><circle cx="671.18" cy="295.27" r="0.75"/><circle cx="680" cy="294.77" r="1.07"/><circle cx="676.35" cy="292.93" r="0.88"/><circle cx="669.02" cy="294.82" r="0.75"/><circle cx="684.53" cy="292.84" r="0.76"/><circle cx="671.77" cy="293.39" r="0.63"/><circle cx="666.4" cy="294.43" r="0.7"/><circle cx="671.58" cy="292.96" r="0.84"/></g>
<rect x="697.6" y="249.6" width="19.2" height="3.7" rx=".6" fill="#f6f6fb" stroke="#4e5a64" stroke-width=".6"/>
<path d="M705.6 249.9V253" stroke="#d9232e" stroke-width="1"/>
<path d="M709.6 249.9V253" stroke="#d9232e" stroke-width="1"/>
<rect x="698" y="254.2" width="19.4" height="3.9" rx=".6" fill="#f6f6fb" stroke="#4e5a64" stroke-width=".6"/>
<path d="M710 254.5V257.8" stroke="#d9232e" stroke-width="1"/>
<rect x="698.4" y="263" width="20" height="5" rx=".6" fill="#f6f6fb" stroke="#4e5a64" stroke-width=".6"/>
<path d="M710.4 263.3V267.7" stroke="#d9232e" stroke-width="1"/>
<rect x="699" y="272.6" width="20.4" height="4.4" rx=".6" fill="#f6f6fb" stroke="#4e5a64" stroke-width=".6"/>
<rect x="699.6" y="278.4" width="20.6" height="5" rx=".6" fill="#f6f6fb" stroke="#4e5a64" stroke-width=".6"/>
<path d="M708.1 278.7V283.1" stroke="#d9232e" stroke-width="1"/>
<g font-family="Liberation Sans,sans-serif" fill="#222" font-weight="700" font-size="3.4">
<text x="696.6" y="293">ID:</text><text x="697.4" y="298">DATE:</text>
</g>
<g font-family="Liberation Sans,sans-serif" fill="#333" font-size="2.2">
<text transform="translate(694.4,249.4) rotate(90)">Negative</text><text transform="translate(694.9,260) rotate(90)">Preliminary</text><text transform="translate(696,272.2) rotate(90)">Invalid</text>
<text x="640" y="250.4" font-size="2">T</text><text x="648.4" y="250.4" font-size="2">C</text>
</g>
<path d="M632.4 245.4H636.2L638 300.4H634.2Z" fill="url(#csh)"/>
<path d="M565.8 301L634.4 302.3V309.4L568.4 308.4Q565.4 308.2 565.4 305Z" fill="url(#sideg)"/>
<path d="M571.4 243.9L630.6 243Q632.4 243 632.5 244.8L634.4 300.6Q634.4 302.4 632.6 302.4L567.2 301.3Q565.3 301.2 565.5 299.4L569.5 245.6Q569.7 243.9 571.4 243.9Z" fill="#b0e5f4"/>
<path d="M571.4 243.9L630.6 243Q632.4 243 632.5 244.8L634.4 300.6Q634.4 302.4 632.6 302.4L567.2 301.3Q565.3 301.2 565.5 299.4L569.5 245.6Q569.7 243.9 571.4 243.9Z" fill="url(#capg2)"/>
<g fill="#a0668a" font-family="Liberation Sans,sans-serif">
<text transform="translate(584.4,252.6) rotate(90)" font-size="6" font-weight="700" textLength="13.5" lengthAdjust="spacingAndGlyphs">easy</text>
<text transform="translate(584.4,266.6) rotate(90)" font-size="6.2" textLength="6" lengthAdjust="spacingAndGlyphs">@</text>
<text transform="translate(584.4,273.6) rotate(90)" font-size="6.6" font-style="italic" font-family="Liberation Serif,serif" textLength="15" lengthAdjust="spacingAndGlyphs">Home</text>
<text transform="translate(578.8,252.6) rotate(90)" font-size="4.2" font-weight="700" textLength="36" lengthAdjust="spacingAndGlyphs">Multi-Drug Screen Test</text>
<path d="M591.6 265.4l1.6-1.3M592.8 267.2l2.4-1M593.2 269.6l3.2 0M592.8 272l2.6 1.1M591.6 273.8l1.7 1.4" stroke="#a0668a" stroke-width="1" stroke-linecap="round" fill="none"/>
</g>
<text transform="translate(624,262) rotate(90)" font-family="Liberation Sans,sans-serif" font-size="2" fill="#6a8590">Remove cap here</text>
</svg>

<!-- teal labels -->
<div class="teal" id="s10" style="left:290.5px;top:213.5px;font-size:13.4px;transform:scaleX(.938)">10 seconds</div>
<div class="teal" id="mx1" style="left:290.7px;top:255.8px;font-size:11.2px;transform:scaleX(.927)">MAX Line</div>
<div class="teal" id="mx2" style="left:285.3px;top:267.2px;font-size:11.5px;transform:scaleX(.864)">(on dip card)</div>
<div class="teal" id="m5" style="left:663.5px;top:212.5px;font-size:13px;transform:scaleX(1.03)">5 minutes</div>

<!-- captions -->
<div class="dot" style="left:36px;top:342px"></div>
<div class="cap" id="c1" style="left:49.8px;top:334px;transform:scaleX(1)">Remove the cap.</div>
<div class="dot" style="left:283px;top:342px"></div>
<div class="cap" id="c2" style="left:296.6px;top:334px;transform:scaleX(1.02)">Dip in urine for 10 seconds.</div>
<div class="dot" style="left:532px;top:342px"></div>
<div class="cap" id="c3" style="left:548px;top:335.3px;transform:scaleX(1.005)">Recap the card and lay it flat.<br>Read results in 5 min.</div>

<!-- result strips -->
<div class="strip" style="left:190px"><b class="c"></b><b class="t"></b></div>
<div class="strip" style="left:258px"><b class="c"></b><b class="t f"></b></div>
<div class="strip" style="left:378px"><b class="c"></b></div>
<div class="strip" style="left:497.7px"></div>
<div class="strip" style="left:566px"><b class="t"></b></div>
<div class="ct" style="left:176px;top:522px">C</div><div class="ct" style="left:177px;top:555px">T</div>
<div class="ct" style="left:243px;top:522px">C</div><div class="ct" style="left:244px;top:555px">T</div>
<div class="ct" style="left:363px;top:522px">C</div><div class="ct" style="left:364px;top:555px">T</div>
<div class="ct" style="left:482px;top:522px">C</div><div class="ct" style="left:483px;top:555px">T</div>
<div class="ct" style="left:550px;top:522px">C</div><div class="ct" style="left:551px;top:555px">T</div>
<div class="lbl" id="l1" style="left:204px;top:613px">Negative</div>
<div class="lbl" id="l2" style="left:343px;top:614px">Preliminary<br>Positive</div>
<div class="lbl" id="l3" style="left:524px;top:613px">Invalid</div>

<!-- note -->
<div class="tri"></div>
<div class="note"></div>
<div class="nt" id="n1" style="left:73.4px;top:706.3px;font-size:32px;font-weight:700;transform:scaleX(1.075);-webkit-text-stroke:.6px #fff">Note:</div>
<div class="nt" id="n2" style="left:170.8px;top:712.7px;font-size:24px;transform:scaleX(1.003)">Even a very faint test line the result is still negative.</div>

</body>
</html>
